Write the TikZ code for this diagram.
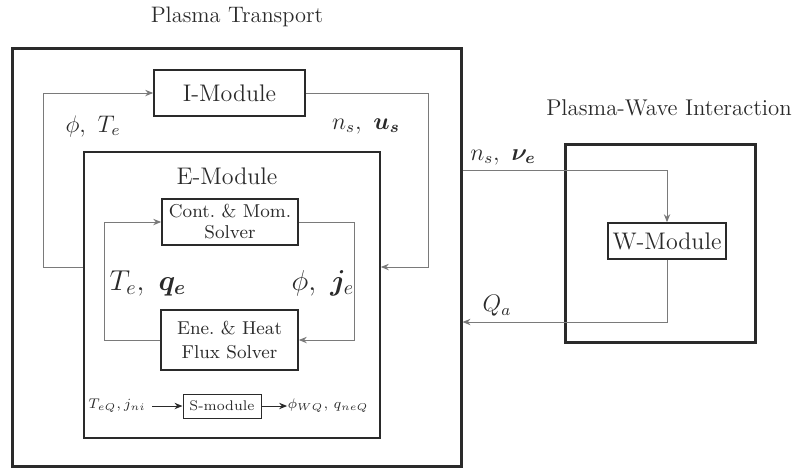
\documentclass[tikz,border=0pt]{standalone}
\usepackage{amsmath,bm}
\usetikzlibrary{arrows.meta,calc}
\definecolor{ink}{HTML}{2A2A2A}
\definecolor{wire}{HTML}{7A7A7A}
\tikzset{
  thickbox/.style={draw=ink,line width=1.5pt,inner sep=0pt},
  midbox/.style={draw=ink,line width=0.8pt,inner sep=0pt},
  modbox/.style={draw=ink,line width=0.8pt,inner sep=0pt,align=center,text=ink},
  conn/.style={draw=wire,line width=0.5pt,-{Stealth[length=4pt,width=3.2pt]}},
  lbl/.style={text=ink,inner sep=0pt}
}
\begin{document}
\begin{tikzpicture}[x=0.5pt,y=-0.5pt]
\useasboundingbox (0,0) rectangle (796,468);
% outer boxes
\node[thickbox,minimum width=224.5pt,minimum height=209pt] (outer) at (236.5,257) {};
\node[thickbox,minimum width=95pt,minimum height=99pt] (wbox) at (660,243) {};
\node[midbox,minimum width=148pt,minimum height=143pt] (emod) at (232,295) {};
% titles
\node[lbl,font=\fontsize{11.2}{13}\selectfont] (t1) at (237,17) {Plasma Transport};
\node[lbl,font=\fontsize{11.4}{13}\selectfont] (t2) at (669,108) {Plasma-Wave Interaction};
\node[lbl,font=\large] (etitle) at (227,176) {E-Module};
% modules
\node[modbox,font=\large,minimum width=75.5pt,minimum height=23pt] (imod) at (229.5,93) {I-Module};
\node[modbox,font=\fontsize{9.3}{10.5}\selectfont,minimum width=68pt,minimum height=23pt] (cont) at (230,222) {Cont.\ \& Mom.\\Solver};
\node[modbox,font=\fontsize{9.3}{12}\selectfont,minimum width=68.5pt,minimum height=30pt] (ene) at (229.5,340) {Ene.\ \& Heat\\Flux Solver};
\node[modbox,font=\scriptsize,line width=0.5pt,minimum width=39pt,minimum height=12pt] (smod) at (222,406) {S-module};
\node[modbox,font=\large,minimum width=59pt,minimum height=18pt] (wmod) at (667,241) {W-Module};
% labels
\node[lbl,font=\large] (l1) at (93,126) {$\phi,\ T_e$};
\node[lbl,font=\large] (l2) at (366,126) {$n_s,\ \bm{u_s}$};
\node[lbl,font=\Large] (l3) at (148,283) {$T_e,\ \bm{q_e}$};
\node[lbl,font=\Large] (l4) at (323,283) {$\phi,\ \bm{j}_e$};
\node[lbl,font=\large] (l5) at (503,157) {$n_s,\ \bm{\nu_e}$};
\node[lbl,font=\large] (l6) at (497,306) {$Q_a$};
\node[lbl,font=\scriptsize] (sin) at (117,406) {$T_{eQ}, j_{ni}$};
\node[lbl,font=\scriptsize] (sout) at (328,406) {$\phi_{WQ},\, q_{neQ}$};
% connectors
\draw[conn] (emod.west |- 0,267) -- (43,267) |- (imod.west);
\draw[conn] (imod.east) -- (428,93) |- (emod.east |- 0,267);
\draw[conn] (ene.west) -- (104,340) |- (cont.west);
\draw[conn] (cont.east) -- (354,222) |- (ene.east);
\draw[conn,draw=ink] ([xshift=3pt]sin.east) -- (smod.west);
\draw[conn,draw=ink] (smod.east) -- (sout.west);
\draw[conn] (outer.east |- 0,170) -| (wmod.north);
\draw[conn] (wmod.south) |- (outer.east |- 0,322);
\end{tikzpicture}
\end{document}
